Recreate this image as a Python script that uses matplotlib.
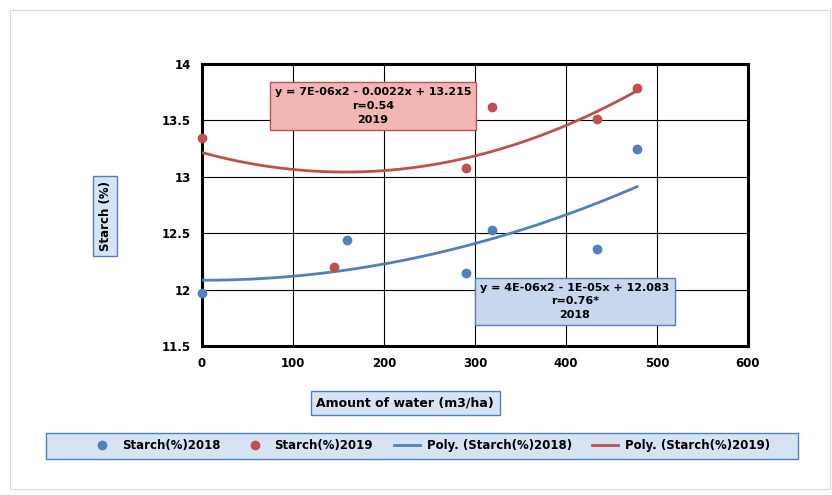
import numpy as np
import matplotlib
matplotlib.use("Agg")
import matplotlib.pyplot as plt
from matplotlib.lines import Line2D
from matplotlib.patches import Rectangle

# data
water = [0, 159, 290, 319, 434, 478]
starch_2018 = [11.97, 12.44, 12.15, 12.53, 12.36, 13.25]
water_2019 = [0, 145, 290, 319, 434, 478]
starch_2019 = [13.34, 12.20, 13.08, 13.62, 13.51, 13.79]

# trendline coefficients (a, b, c) as drawn on the chart
trend_2018 = [3.65e-6, -1e-5, 12.083]
trend_2019 = [7e-6, -0.0022, 13.215]

eq_2018 = "y = 4E-06x2 - 1E-05x + 12.083\nr=0.76*\n2018"
eq_2019 = "y = 7E-06x2 - 0.0022x + 13.215\nr=0.54\n2019"

blue = "#4f81bd"
red = "#c0504d"

plt.rcParams['font.family'] = ['DejaVu Sans']

fig = plt.figure(figsize=(8.32, 4.95), dpi=100)
fig.patches.append(Rectangle((0.012, 0.012), 0.985, 0.968, transform=fig.transFigure,
                             fill=False, edgecolor="#d9d9d9", linewidth=0.8))

ax = fig.add_axes([0.2428, 0.301, 0.6562, 0.5697])
ax.set_xlim(0, 600)
ax.set_ylim(11.5, 14)
ax.set_xticks(np.arange(0, 601, 100))
ax.set_yticks([11.5, 12, 12.5, 13, 13.5, 14])
ax.set_yticklabels(["11.5", "12", "12.5", "13", "13.5", "14"])
ax.grid(True, color="black", linewidth=0.8)
ax.set_axisbelow(True)
for s in ax.spines.values():
    s.set_linewidth(2.2)
    s.set_color("black")
ax.tick_params(length=0, pad=8, labelsize=8.5)
for lab in ax.get_xticklabels() + ax.get_yticklabels():
    lab.set_fontweight("bold")

# polynomial trendlines (order 2)
xs = np.linspace(0, max(water), 200)
ax.plot(xs, np.polyval(trend_2018, xs), color=blue, linewidth=2, zorder=3)
ax.plot(xs, np.polyval(trend_2019, xs), color=red, linewidth=2, zorder=3)

ax.plot(water, starch_2018, 'o', color=blue, markersize=6, clip_on=False, zorder=4)
ax.plot(water_2019, starch_2019, 'o', color=red, markersize=6, clip_on=False, zorder=4)

ax.text(0.313, 0.851, eq_2019, transform=ax.transAxes, ha="center", va="center",
        fontsize=8, fontweight="bold", linespacing=1.45, zorder=5,
        bbox=dict(boxstyle="square,pad=0.45", facecolor="#f2b6b5", edgecolor=red, linewidth=1))
ax.text(0.683, 0.158, eq_2018, transform=ax.transAxes, ha="center", va="center",
        fontsize=8, fontweight="bold", linespacing=1.45, zorder=5,
        bbox=dict(boxstyle="square,pad=0.45", facecolor="#c6d7ee", edgecolor=blue, linewidth=1))

box = dict(boxstyle="square,pad=0.45", facecolor="#d6e3f3", edgecolor=blue, linewidth=1)
fig.text(105 / 832, 1 - 216 / 495, "Starch (%)", rotation=90, ha="center", va="center",
         fontsize=8.5, fontweight="bold", bbox=box)
fig.text(405 / 832, 1 - 403 / 495, "Amount of water (m3/ha)", ha="center", va="center",
         fontsize=9, fontweight="bold", bbox=box)

# legend frame
fig.patches.append(Rectangle((46 / 832, 36 / 495), 752 / 832, 26 / 495, transform=fig.transFigure,
                             facecolor="#d6e3f3", edgecolor=blue, linewidth=1, zorder=0))
handles = [
    Line2D([], [], marker='o', linestyle='none', color=blue, markersize=6),
    Line2D([], [], marker='o', linestyle='none', color=red, markersize=6),
    Line2D([], [], color=blue, linewidth=2),
    Line2D([], [], color=red, linewidth=2),
]
labels = ["Starch(%)2018", "Starch(%)2019", "Poly. (Starch(%)2018)", "Poly. (Starch(%)2019)"]
leg = fig.legend(handles, labels, loc="center", ncol=4, mode="expand",
                 bbox_to_anchor=(80 / 832, 36 / 495, 700 / 832, 26 / 495),
                 prop=dict(size=8.5, weight="bold"), frameon=False, borderpad=0.3,
                 handlelength=2.2, handletextpad=0.6, columnspacing=3)

fig.savefig("out.png", dpi=100)
